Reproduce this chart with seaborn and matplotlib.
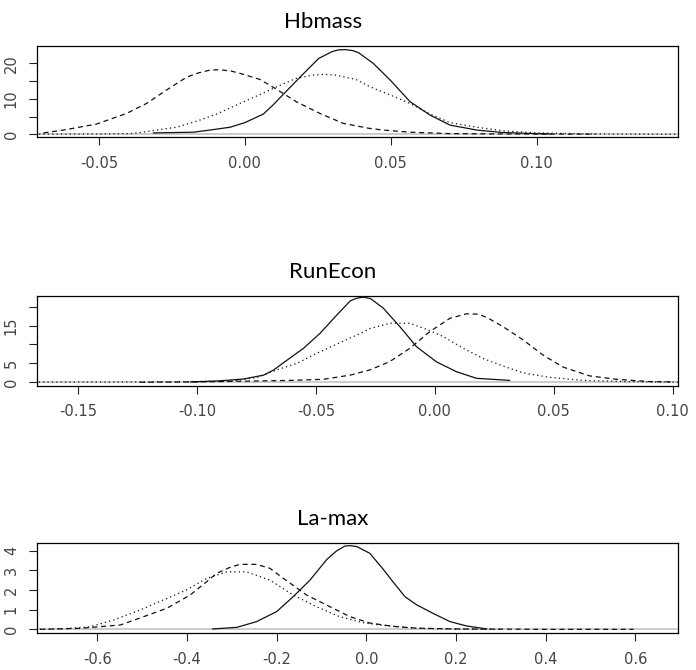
import numpy as np
import pandas as pd
import matplotlib
matplotlib.use("Agg")
import matplotlib.pyplot as plt
import seaborn as sns

sns.set_style("ticks")
plt.rcParams['font.family'] = ['DejaVu Sans']

# Hbmass densities
hb_solid_x = [-0.0314, -0.0177, -0.012, -0.0051, 0.0, 0.0063, 0.0097, 0.0133, 0.0196, 0.0253,
              0.0298, 0.032, 0.0344, 0.037, 0.039, 0.044, 0.0498, 0.0566, 0.0635, 0.0703,
              0.0795, 0.0886, 0.100, 0.105]
hb_solid_y = [0.4, 0.6, 1.2, 2.0, 3.3, 5.7, 8.3, 11.4, 16.7, 21.4,
              23.3, 23.8, 23.9, 23.6, 23.0, 20.0, 15.3, 9.2, 5.4, 2.6,
              1.2, 0.5, 0.2, 0.1]
hb_dash_x = [-0.069, -0.0622, -0.0508, -0.0405, -0.0337, -0.0268, -0.020, -0.016, -0.012, -0.0095,
             -0.0074, -0.0045, -0.0017, 0.0051, 0.0109, 0.0176, 0.0257, 0.0337, 0.0425, 0.0475,
             0.0566, 0.0703, 0.09, 0.12]
hb_dash_y = [0.4, 1.2, 2.9, 5.9, 8.7, 12.5, 16.1, 17.3, 18.1, 18.2,
             18.1, 17.8, 17.2, 15.5, 12.7, 9.2, 5.9, 3.1, 1.7, 1.2,
             0.6, 0.2, 0.1, 0.05]
hb_dot_x = [-0.0705, -0.05, -0.0394, -0.035, -0.0312, -0.0234, -0.0165, -0.0097, -0.0028, 0.004,
            0.0109, 0.0176, 0.0234, 0.027, 0.0311, 0.038, 0.0429, 0.0498, 0.0566, 0.0635,
            0.0703, 0.0795, 0.0886, 0.100, 0.12, 0.148]
hb_dot_y = [0.05, 0.1, 0.2, 0.6, 1.1, 2.0, 3.7, 5.7, 8.3, 10.8,
            13.4, 15.8, 16.7, 16.9, 16.7, 15.5, 13.4, 11.1, 8.7, 5.7,
            3.3, 2.0, 1.0, 0.4, 0.1, 0.02]

# RunEcon densities
re_solid_x = [-0.1028, -0.0916, -0.0804, -0.072, -0.0678, -0.0636, -0.0552, -0.0482, -0.0412, -0.0356,
              -0.033, -0.030, -0.027, -0.0217, -0.0147, -0.0077, 0.0007, 0.0091, 0.0175, 0.0315]
re_solid_y = [0.1, 0.35, 0.87, 1.9, 3.25, 5.2, 9.0, 13.0, 17.8, 21.5,
              22.2, 22.5, 22.1, 19.6, 14.7, 9.4, 5.4, 2.8, 1.06, 0.5]
re_dash_x = [-0.124, -0.10, -0.0608, -0.0468, -0.0356, -0.0272, -0.0189, -0.0105, -0.0021, 0.0063,
             0.0133, 0.018, 0.0217, 0.0287, 0.0371, 0.0455, 0.054, 0.0651, 0.0763, 0.0903, 0.100]
re_dash_y = [0.02, 0.1, 0.5, 0.8, 1.9, 3.3, 5.5, 9.0, 13.4, 16.9,
             18.1, 18.0, 17.2, 14.7, 11.2, 7.2, 4.0, 1.7, 0.8, 0.2, 0.1]
re_dot_x = [-0.1666, -0.12, -0.086, -0.0748, -0.0664, -0.058, -0.0496, -0.0398, -0.030, -0.0273,
            -0.0189, -0.0105, -0.0035, 0.0035, 0.0119, 0.0203, 0.0287, 0.0371, 0.0483, 0.0623,
            0.08, 0.1024]
re_dot_y = [0.05, 0.1, 0.3, 1.3, 3.3, 5.0, 7.7, 10.5, 13.3, 14.2,
            15.6, 15.6, 14.0, 12.1, 9.0, 6.3, 4.3, 2.5, 1.3, 0.5,
            0.2, 0.05]

# La-max densities
lm_solid_x = [-0.343, -0.289, -0.245, -0.2, -0.163, -0.1256, -0.088, -0.066, -0.0475, -0.035,
              -0.021, 0.008, 0.036, 0.06, 0.0863, 0.112, 0.149, 0.187, 0.224, 0.269]
lm_solid_y = [0.02, 0.1, 0.39, 0.9, 1.66, 2.5, 3.55, 3.99, 4.23, 4.25,
              4.2, 3.86, 3.1, 2.4, 1.66, 1.25, 0.81, 0.39, 0.17, 0.02]
lm_dash_x = [-0.728, -0.64, -0.549, -0.497, -0.445, -0.393, -0.356, -0.334, -0.304, -0.282,
             -0.245, -0.215, -0.185, -0.133, -0.081, -0.036, 0.008, 0.06, 0.112, 0.2, 0.4, 0.596]
lm_dash_y = [0.0, 0.05, 0.22, 0.64, 1.07, 1.74, 2.42, 2.84, 3.15, 3.3,
             3.3, 3.1, 2.59, 1.74, 1.15, 0.64, 0.32, 0.15, 0.06, 0.02, 0.0, 0.0]
lm_dot_x = [-0.728, -0.676, -0.616, -0.564, -0.505, -0.453, -0.401, -0.356, -0.311, -0.267,
            -0.215, -0.163, -0.111, -0.059, -0.007, 0.038, 0.112, 0.2, 0.3]
lm_dot_y = [0.0, 0.03, 0.13, 0.47, 0.98, 1.49, 2.0, 2.59, 2.92, 2.92,
            2.5, 1.74, 1.15, 0.64, 0.34, 0.2, 0.05, 0.01, 0.0]

titles = ['Hbmass', 'RunEcon', 'La-max']
xticks = [[-0.05, 0.00, 0.05, 0.10],
          [-0.15, -0.10, -0.05, 0.00, 0.05, 0.10],
          [-0.6, -0.4, -0.2, 0.0, 0.2, 0.4, 0.6]]
xticklabels = [['-0.05', '0.00', '0.05', '0.10'],
               ['-0.15', '-0.10', '-0.05', '0.00', '0.05', '0.10'],
               ['-0.6', '-0.4', '-0.2', '0.0', '0.2', '0.4', '0.6']]
yticks = [[0, 5, 10, 15, 20], [0, 5, 10, 15, 20], [0, 1, 2, 3, 4]]
yticklabels = [['0', '', '10', '', '20'], ['0', '5', '', '15', ''], ['0', '1', '2', '3', '4']]

curves = [
    [(hb_solid_x, hb_solid_y), (hb_dash_x, hb_dash_y), (hb_dot_x, hb_dot_y)],
    [(re_solid_x, re_solid_y), (re_dash_x, re_dash_y), (re_dot_x, re_dot_y)],
    [(lm_solid_x, lm_solid_y), (lm_dash_x, lm_dash_y), (lm_dot_x, lm_dot_y)],
]
styles = ['-', (0, (4, 3)), (0, (1, 2.5))]

xlims = [(-0.0711, 0.1485), (-0.1672, 0.1024), (-0.7338, 0.696)]
ylims = [(-0.85, 24.9), (-0.9, 22.8), (-0.2, 4.40)]

# axes boxes [left, bottom, width, height] in figure fraction
boxes = [[0.0536, 0.795, 0.921, 0.1363],
         [0.0536, 0.4243, 0.921, 0.1339],
         [0.0536, 0.0548, 0.921, 0.1352]]
title_pos = [(0.464, 0.958), (0.478, 0.585), (0.478, 0.2164)]

fig = plt.figure(figsize=(6.96, 6.70), dpi=100)

for i in range(3):
    ax = fig.add_axes(boxes[i])
    ax.axhline(0, color='#c8c8c8', lw=1.3, zorder=1)
    for (cx, cy), ls in zip(curves[i], styles):
        df = pd.DataFrame({'x': cx, 'y': cy})
        sns.lineplot(data=df, x='x', y='y', ax=ax, color='#111111',
                     linewidth=0.9, linestyle=ls, zorder=3)
    ax.set_xlim(*xlims[i])
    ax.set_ylim(*ylims[i])
    ax.set_xticks(xticks[i])
    ax.set_xticklabels(xticklabels[i])
    ax.set_yticks(yticks[i])
    ax.set_yticklabels(yticklabels[i])
    ax.set_xlabel('')
    ax.set_ylabel('')
    for s in ax.spines.values():
        s.set_visible(True)
        s.set_color('black')
        s.set_linewidth(0.9)
    ax.tick_params(axis='both', direction='out', length=5.8, width=0.8,
                   color='#222222', labelcolor='#444444', labelsize=10.5, pad=7.5)
    for lbl in ax.get_yticklabels():
        lbl.set_rotation(90)
        lbl.set_va('center')
    fig.text(title_pos[i][0], title_pos[i][1], titles[i], ha='center', va='baseline',
             fontsize=16, family=['Lato', 'DejaVu Sans'], color='black')

fig.savefig('out.png', dpi=100)
